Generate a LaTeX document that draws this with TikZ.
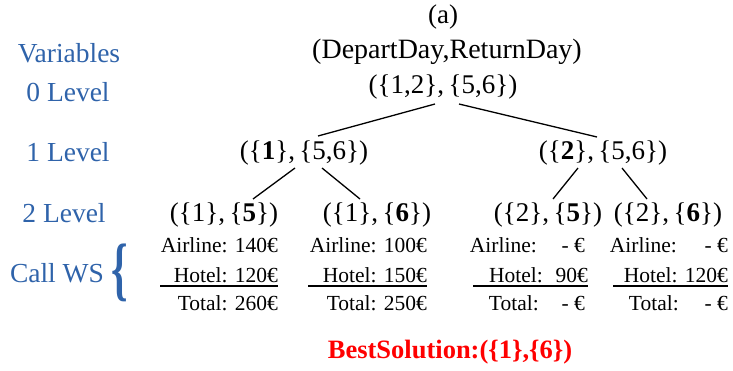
\documentclass[tikz,border=0pt]{standalone}
\usepackage{fontspec}
\setmainfont{Liberation Serif}
\usetikzlibrary{calc}
\definecolor{lvlblue}{RGB}{47,99,170}
\begin{document}
\begin{tikzpicture}[x=1pt,y=-1pt,
  big/.style={font=\fontsize{27}{30}\selectfont, inner sep=0pt},
  lvl/.style={font=\fontsize{27.5}{30}\selectfont, text=lvlblue, inner sep=0pt},
  cost/.style={font=\fontsize{21.5}{25}\selectfont, inner sep=0pt, anchor=base east},
  edge/.style={line width=1.3pt},
  uline/.style={line width=1.1pt}
]
\useasboundingbox (0,0) rectangle (733,370);
% level labels
\node[lvl] (lv) at (69,53) {Variables};
\node[lvl] (l0) at (68,92) {0 Level};
\node[lvl] (l1) at (68,152) {1 Level};
\node[lvl] (l2) at (64,213) {2 Level};
\node[lvl] (lc) at (57,273) {Call WS};
\node[text=lvlblue, inner sep=0pt] (br) at (120,273) {\scalebox{0.6}[1]{\fontsize{70}{70}\selectfont\bfseries\{}};
% tree
\node[big] (cap) at (443,17) {(a)};
\node[big, font=\fontsize{28}{30}\selectfont] (var) at (447,52) {(DepartDay,ReturnDay)};
\node[big] (root) at (443,87) {(\{1,2\},\,\{5,6\})};
\node[big] (n1) at (304,153) {(\{\textbf{1}\},\,\{5,6\})};
\node[big] (n2) at (603,153) {(\{\textbf{2}\},\,\{5,6\})};
\node[big] (n11) at (224,215) {(\{1\},\,\{\textbf{5}\})};
\node[big] (n12) at (377,215) {(\{1\},\,\{\textbf{6}\})};
\node[big] (n21) at (548,215) {(\{2\},\,\{\textbf{5}\})};
\node[big] (n22) at (668,215) {(\{2\},\,\{\textbf{6}\})};
\draw[edge] ($(root)+(-8,17)$) -- ($(n1)+(14,-17)$);
\draw[edge] ($(root)+(16,17)$) -- ($(n2)+(-6,-16)$);
\draw[edge] ($(n1)+(-9,15)$) -- ($(n11)+(29,-16)$);
\draw[edge] ($(n1)+(18,15)$) -- ($(n12)+(-17,-16)$);
\draw[edge] ($(n2)+(-25,15)$) -- ($(n21)+(5,-16)$);
\draw[edge] ($(n2)+(19,15)$) -- ($(n22)+(-21,-16)$);
% cost block 1
\node[cost] (a1) at (278,252) {Airline: 140€};
\node[cost] (h1) at (278,282) {Hotel: 120€};
\node[cost] (t1) at (278,310) {Total: 260€};
\coordinate (u1a) at (160,286); \coordinate (u1b) at (278,286);
\draw[uline] (u1a) -- (u1b);
% cost block 2
\node[cost] (a2) at (427,252) {Airline: 100€};
\node[cost] (h2) at (427,282) {Hotel: 150€};
\node[cost] (t2) at (427,310) {Total: 250€};
\coordinate (u2a) at (308,286); \coordinate (u2b) at (427,286);
\draw[uline] (u2a) -- (u2b);
% cost block 3
\node[cost] (a3l) at (537,252) {Airline:};
\node[cost] (a3v) at (585,252) {- €};
\node[cost] (h3l) at (543,282) {Hotel:};
\node[cost] (h3v) at (588,282) {90€};
\node[cost] (t3l) at (539,310) {Total:};
\node[cost] (t3v) at (585,310) {- €};
\coordinate (u3a) at (473,286); \coordinate (u3b) at (588,286);
\draw[uline] (u3a) -- (u3b);
% cost block 4
\node[cost] (a4l) at (677,252) {Airline:};
\node[cost] (a4v) at (728,252) {- €};
\node[cost] (h4) at (728,282) {Hotel: 120€};
\node[cost] (t4l) at (679,310) {Total:};
\node[cost] (t4v) at (728,310) {- €};
\coordinate (u4a) at (613,286); \coordinate (u4b) at (728,286);
\draw[uline] (u4a) -- (u4b);
% best solution
\node[big, text=red, font=\fontsize{26.5}{30}\selectfont\bfseries] (best) at (450,352) {BestSolution:(\{1\},\{6\})};
\end{tikzpicture}
\end{document}
